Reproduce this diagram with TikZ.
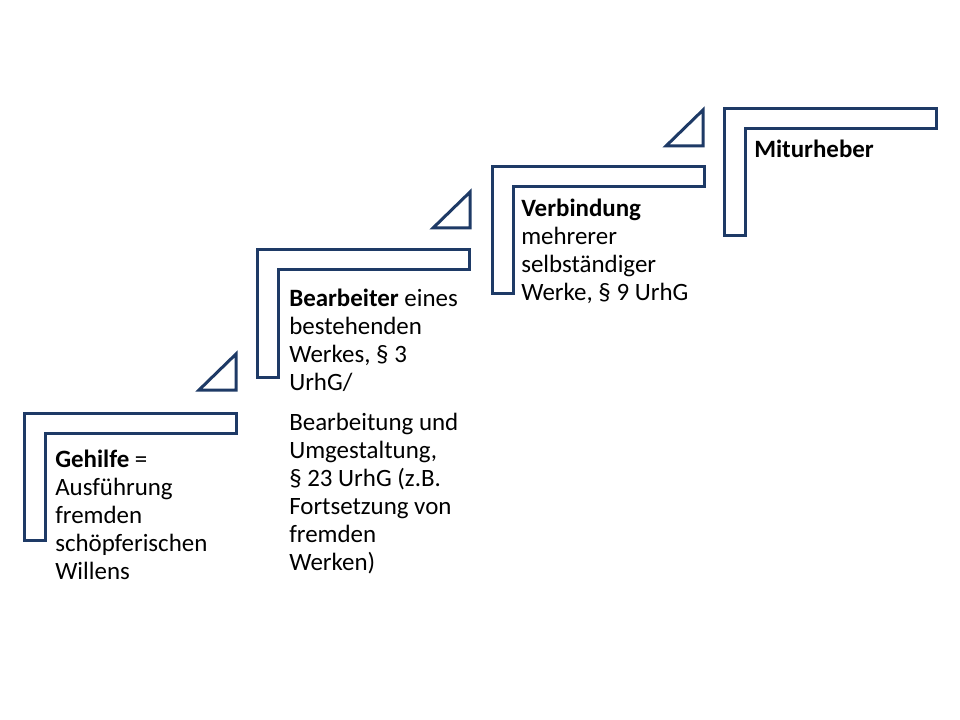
\documentclass[tikz,border=0pt]{standalone}
\usepackage{fontspec}
\setmainfont{Carlito}
\usetikzlibrary{positioning}
\definecolor{stepblue}{RGB}{30,58,102}
\tikzset{
  stepframe/.style={draw=stepblue, line width=2.25pt, line join=miter, fill=white},
  steptext/.style={anchor=base west, align=flush left, inner sep=0pt, text width=190pt,
    font=\fontsize{18.7}{21}\selectfont},
}

\begin{document}
\begin{tikzpicture}[x=0.75pt, y=-0.75pt]
  \useasboundingbox (0,0) rectangle (960,720);
  % Stufen
  \foreach \sx/\sy in {24/413, 257/250, 492/167, 724/109}
    \draw[stepframe] (\sx,\sy) -- ++(212,0) -- ++(0,20) -- ++(-191,0) -- ++(0,107) -- ++(-21,0) -- cycle;
  % Dreiecke
  \foreach \tx/\ty in {236/390, 470/228, 703/146}
    \draw[stepframe] (\tx,\ty) -- ++(-37,0) -- ++(37,-36) -- cycle;
  % Texte
  \node[steptext] (gehilfe) at (55,467) {\textbf{Gehilfe} =\\Ausführung\\fremden\\schöpferischen\\Willens};
  \node[steptext] (bearbeiter) at (289,306) {\textbf{Bearbeiter} eines\\bestehenden\\Werkes, § 3\\UrhG/\\[9pt]Bearbeitung und\\Umgestaltung,\\§ 23 UrhG (z.B.\\Fortsetzung von\\fremden\\Werken)};
  \node[steptext] (verbindung) at (521,217) {\textbf{Verbindung}\\mehrerer\\selbständiger\\Werke, § 9 UrhG};
  \node[steptext] (miturheber) at (754,158) {\textbf{Miturheber}};
\end{tikzpicture}
\end{document}
